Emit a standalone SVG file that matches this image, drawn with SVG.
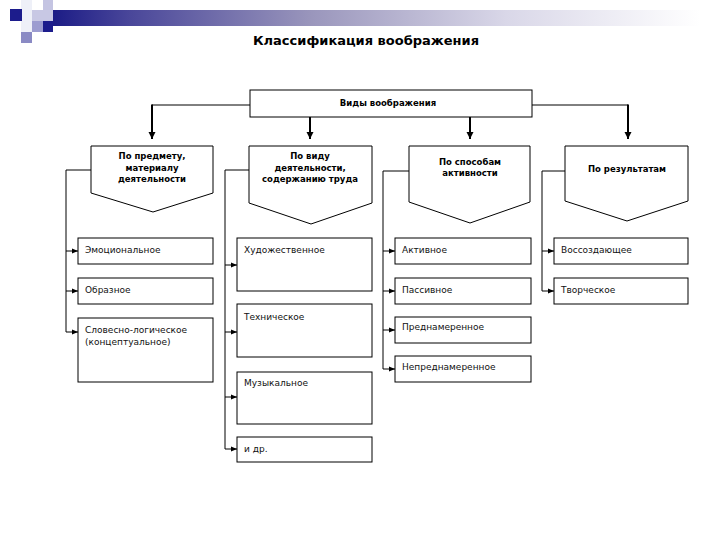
<svg xmlns="http://www.w3.org/2000/svg" width="720" height="540" viewBox="0 0 720 540">
<style>
.box{fill:#fff;stroke:#000;stroke-width:1}
.cat{font-family:"DejaVu Sans",sans-serif;font-size:8.5px;font-weight:bold;text-anchor:middle;fill:#000}
.leaf{font-family:"DejaVu Sans",sans-serif;font-size:9px;fill:#111}
.title{font-family:"DejaVu Sans",sans-serif;font-size:13px;font-weight:bold;text-anchor:middle;fill:#000}
.h{fill:none;stroke:#000;stroke-width:1}
.v{fill:none;stroke:#000;stroke-width:2}
.s{fill:none;stroke:#000;stroke-width:1}
</style>
<defs>
<linearGradient id="bar" x1="53" y1="0" x2="700" y2="0" gradientUnits="userSpaceOnUse">
<stop offset="0" stop-color="#1c1c86"/>
<stop offset="0.12" stop-color="#4a479a"/>
<stop offset="0.4" stop-color="#9a96bc"/>
<stop offset="0.7" stop-color="#d9d7e8"/>
<stop offset="1" stop-color="#ffffff"/>
</linearGradient>
<marker id="big" markerUnits="userSpaceOnUse" markerWidth="8" markerHeight="8" refX="7" refY="4" orient="auto">
<path d="M0,0.5 L7,4 L0,7.5 Z" fill="#000"/>
</marker>
<marker id="sm" markerUnits="userSpaceOnUse" markerWidth="6" markerHeight="6" refX="6" refY="3" orient="auto">
<path d="M0,0.5 L6,3 L0,5.5 Z" fill="#000"/>
</marker>
</defs>
<rect width="720" height="540" fill="#fff"/>
<g id="decoration">
<rect x="21" y="0" width="11" height="43" fill="#eef0f8"/>
<rect x="32" y="10" width="21" height="11" fill="#c8c8e4"/>
<rect x="43" y="0" width="10" height="10" fill="#c4c4e2"/>
<rect x="10" y="9" width="12" height="12" fill="#1c1c8c"/>
<rect x="32" y="21" width="11" height="11" fill="#9c9cd0"/>
<rect x="43" y="21" width="10" height="11" fill="#1c1c8c"/>
<rect x="21" y="32" width="11" height="11" fill="#8a8ac4"/>
<rect x="53" y="10" width="667" height="16" fill="url(#bar)"/>
</g>
<text class="title" x="366" y="45">Классификация воображения</text>
<g id="connectors">
<path class="h" d="M250,105 H152"/>
<path class="v" d="M152,104.5 V139" marker-end="url(#big)"/>
<path class="v" d="M310,117 V139" marker-end="url(#big)"/>
<path class="v" d="M470,117 V139" marker-end="url(#big)"/>
<path class="h" d="M532,105 H628"/>
<path class="v" d="M628,104.5 V139" marker-end="url(#big)"/>
<path class="s" d="M91,170 H66 V332"/>
<path class="s" d="M66,251 H78" marker-end="url(#sm)"/>
<path class="s" d="M66,291 H78" marker-end="url(#sm)"/>
<path class="s" d="M66,332 H78" marker-end="url(#sm)"/>
<path class="s" d="M249,170 H225 V449"/>
<path class="s" d="M225,265 H237" marker-end="url(#sm)"/>
<path class="s" d="M225,332 H237" marker-end="url(#sm)"/>
<path class="s" d="M225,397 H237" marker-end="url(#sm)"/>
<path class="s" d="M225,449 H237" marker-end="url(#sm)"/>
<path class="s" d="M409,171 H383 V369"/>
<path class="s" d="M383,251 H395" marker-end="url(#sm)"/>
<path class="s" d="M383,291 H395" marker-end="url(#sm)"/>
<path class="s" d="M383,330 H395" marker-end="url(#sm)"/>
<path class="s" d="M383,369 H395" marker-end="url(#sm)"/>
<path class="s" d="M565,171 H542 V291"/>
<path class="s" d="M542,251 H554" marker-end="url(#sm)"/>
<path class="s" d="M542,291 H554" marker-end="url(#sm)"/>
</g>
<g id="root">
<rect class="box" x="250" y="90" width="282" height="27"/>
<text class="cat" x="388" y="106">Виды воображения</text>
</g>
<g id="cat1">
<path class="box" d="M91,146 H213 V193 L153,212 L91,193 Z"/>
<text class="cat" x="152" y="159">По предмету,</text>
<text class="cat" x="152" y="170.5">материалу</text>
<text class="cat" x="152" y="182">деятельности</text>
</g>
<g id="cat2">
<path class="box" d="M249,146 H372 V203 L311,224 L249,203 Z"/>
<text class="cat" x="310" y="159">По виду</text>
<text class="cat" x="310" y="170.5">деятельности,</text>
<text class="cat" x="310" y="182">содержанию труда</text>
</g>
<g id="cat3">
<path class="box" d="M409,146 H530 V202 L470,223 L409,202 Z"/>
<text class="cat" x="470" y="165">По способам</text>
<text class="cat" x="470" y="176">активности</text>
</g>
<g id="cat4">
<path class="box" d="M565,146 H688 V201 L627,221 L565,201 Z"/>
<text class="cat" x="627" y="172">По результатам</text>
</g>
<g id="emotional"><rect class="box" x="78" y="238" width="135" height="26"/><text class="leaf" x="85" y="253">Эмоциональное</text></g>
<g id="figurative"><rect class="box" x="78" y="278" width="135" height="26"/><text class="leaf" x="85" y="293">Образное</text></g>
<g id="verbal"><rect class="box" x="78" y="318" width="135" height="64"/><text class="leaf" x="85" y="333">Словесно-логическое</text><text class="leaf" x="85" y="345">(концептуальное)</text></g>
<g id="artistic"><rect class="box" x="237" y="238" width="135" height="53"/><text class="leaf" x="244" y="253">Художественное</text></g>
<g id="technical"><rect class="box" x="237" y="304" width="135" height="53"/><text class="leaf" x="244" y="320">Техническое</text></g>
<g id="musical"><rect class="box" x="237" y="372" width="135" height="52"/><text class="leaf" x="244" y="386">Музыкальное</text></g>
<g id="other"><rect class="box" x="237" y="437" width="135" height="25"/><text class="leaf" x="244" y="452">и др.</text></g>
<g id="active"><rect class="box" x="395" y="238" width="136" height="26"/><text class="leaf" x="402" y="253">Активное</text></g>
<g id="passive"><rect class="box" x="395" y="278" width="136" height="26"/><text class="leaf" x="402" y="293">Пассивное</text></g>
<g id="intentional"><rect class="box" x="395" y="317" width="136" height="26"/><text class="leaf" x="402" y="330">Преднамеренное</text></g>
<g id="unintentional"><rect class="box" x="395" y="356" width="136" height="26"/><text class="leaf" x="402" y="370">Непреднамеренное</text></g>
<g id="recreating"><rect class="box" x="554" y="238" width="134" height="26"/><text class="leaf" x="561" y="253">Воссоздающее</text></g>
<g id="creative"><rect class="box" x="554" y="278" width="134" height="26"/><text class="leaf" x="561" y="293">Творческое</text></g>
</svg>
